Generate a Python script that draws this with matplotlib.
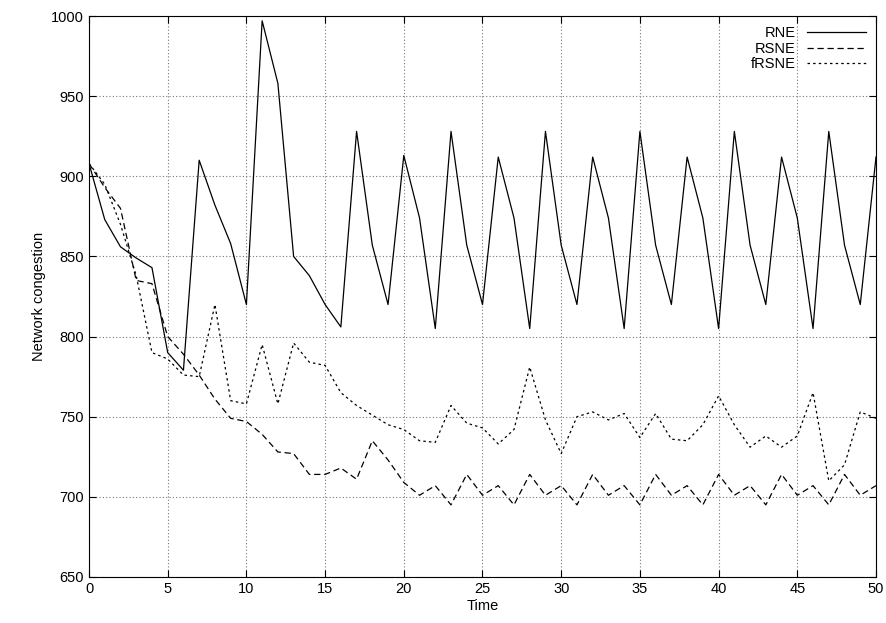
import matplotlib
matplotlib.use("Agg")
import matplotlib.pyplot as plt

time = list(range(51))
rne = [908,873,856,849,843,790,779,910,882,858,820,997,958,850,838,820,806,928,857,820,
       913,874,805,928,857,820,912,874,805,928,857,820,912,874,805,928,857,820,912,874,
       805,928,857,820,912,874,805,928,857,820,912]
rsne = [908,893,880,835,833,800,789,776,761,749,747,739,728,727,714,714,718,711,735,723,
        709,701,707,695,714,701,707,695,714,701,707,695,714,701,707,695,714,701,707,695,
        714,701,707,695,714,701,707,695,714,701,707]
frsne = [908,895,870,838,790,786,776,775,820,760,758,795,758,796,784,782,765,757,751,745,
         742,735,734,757,746,743,733,742,781,748,727,750,753,748,752,737,752,736,735,745,
         763,745,731,738,731,738,765,710,720,753,749]

plt.rcParams['font.family'] = ['Liberation Sans', 'DejaVu Sans']
fig = plt.figure(figsize=(8.87, 6.23), dpi=100)
ax = fig.add_axes([89/887, 1-577/623, (876-89)/887, (577-16)/623])
ax.plot(time, rne, 'k-', lw=0.9, label='RNE')
ax.plot(time, rsne, 'k', ls=(0, (5, 3)), lw=0.9, label='RSNE')
ax.plot(time, frsne, 'k', ls=(0, (2, 2.5)), lw=0.9, label='fRSNE')
ax.set_xlim(0, 50)
ax.set_ylim(650, 1000)
ax.set_xticks(range(0, 51, 5))
ax.set_yticks(range(650, 1001, 50))
ax.grid(True, color='#777777', ls=(0, (1, 2)), lw=0.8)
ax.tick_params(direction='in', labelsize=10.5, top=True, right=True, length=5)
ax.set_xlabel('Time', fontsize=10.5, labelpad=2)
ax.set_ylabel('Network congestion', fontsize=10.5)
leg = ax.legend(loc='upper right', frameon=False, markerfirst=False, fontsize=10.5,
                handlelength=4, borderaxespad=0.3, labelspacing=0.1)
fig.savefig('out.png', dpi=100)
